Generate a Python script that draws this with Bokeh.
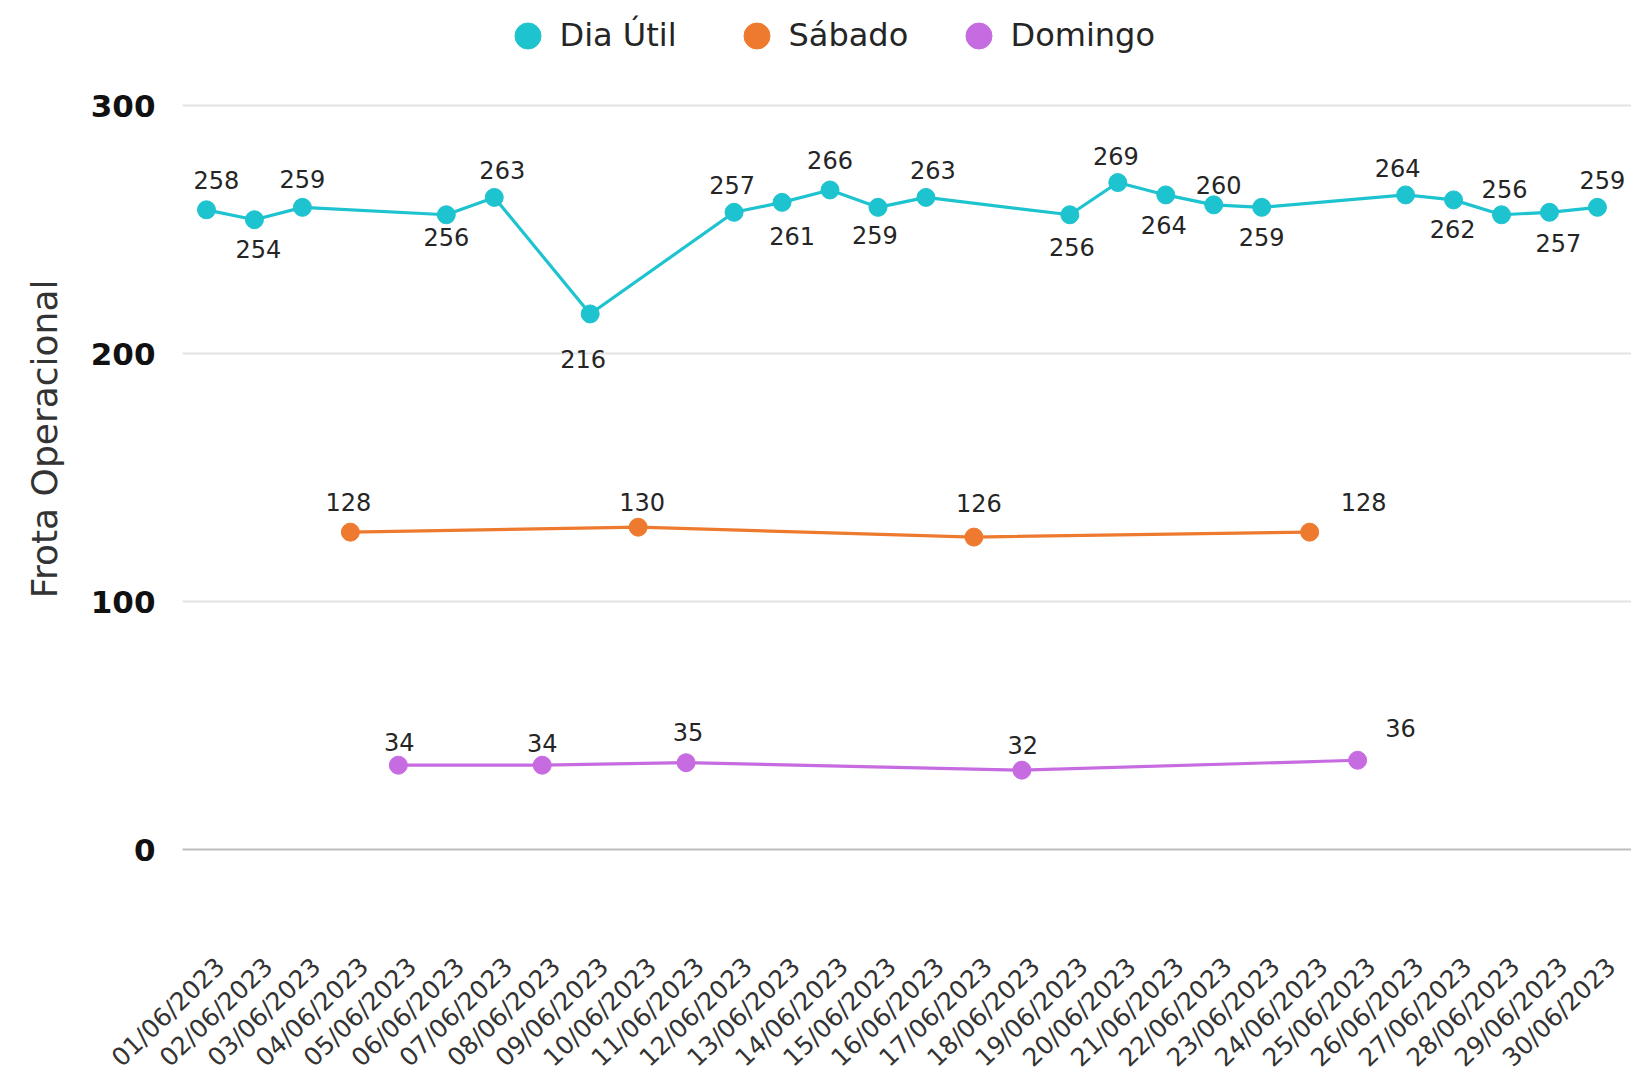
import math
from bokeh.plotting import figure
from bokeh.models import (ColumnDataSource, Range1d, FixedTicker, Legend,
                          LegendItem, LinearAxis, Title)
from bokeh.embed import file_html
from bokeh.resources import INLINE
from bokeh.core.properties import value

# ---------------- data ----------------
dates = ["01/06/2023", "02/06/2023", "03/06/2023", "04/06/2023", "05/06/2023",
         "06/06/2023", "07/06/2023", "08/06/2023", "09/06/2023", "10/06/2023",
         "11/06/2023", "12/06/2023", "13/06/2023", "14/06/2023", "15/06/2023",
         "16/06/2023", "17/06/2023", "18/06/2023", "19/06/2023", "20/06/2023",
         "21/06/2023", "22/06/2023", "23/06/2023", "24/06/2023", "25/06/2023",
         "26/06/2023", "27/06/2023", "28/06/2023", "29/06/2023", "30/06/2023"]

dia_dates = ["01/06/2023", "02/06/2023", "03/06/2023", "06/06/2023", "07/06/2023",
             "09/06/2023", "12/06/2023", "13/06/2023", "14/06/2023", "15/06/2023",
             "16/06/2023", "19/06/2023", "20/06/2023", "21/06/2023", "22/06/2023",
             "23/06/2023", "26/06/2023", "27/06/2023", "28/06/2023", "29/06/2023",
             "30/06/2023"]
dia_values = [258, 254, 259, 256, 263, 216, 257, 261, 266, 259, 263,
              256, 269, 264, 260, 259, 264, 262, 256, 257, 259]

sab_dates = ["04/06/2023", "10/06/2023", "17/06/2023", "24/06/2023"]
sab_values = [128, 130, 126, 128]

dom_dates = ["05/06/2023", "08/06/2023", "11/06/2023", "18/06/2023", "25/06/2023"]
dom_values = [34, 34, 35, 32, 36]

y_ticks = [0, 100, 200, 300]
series_names = ["Dia Útil", "Sábado", "Domingo"]
y_title = "Frota Operacional"

# ---------------- style ----------------
FONT = "DejaVu Sans"
C_DIA = "#1DC3CF"
C_SAB = "#EE7A2F"
C_DOM = "#C76BE0"
TXT = "#333333"
LBL = "#252525"

# label placement offsets in screen px (positive dy = downwards)
dia_dx = [10, 4, 0, 0, 8, -7, -2, 10, 0, -3, 7, 2, -2, -2, 5, 0, -8, -1, 3, 9, 5]
dia_dy = [-30, 29, -28, 22, -27, 45, -27, 34, -30, 28, -27, 32, -27, 30, -20, 30, -27, 29, -26, 31, -27]
sab_dx = [-2, 4, 5, 54]
sab_dy = [-30, -25, -34, -30]
dom_dx = [1, 0, 2, 1, 43]
dom_dy = [-23, -22, -31, -25, -32]

LABEL_SHIFT = 0.29   # tick labels sit slightly right of their points (category units)
RIGHT_PAD = 0.21     # extra room on the right so the last label is not clipped

n = len(dates)
pos = {d: i + 1 for i, d in enumerate(dates)}

p = figure(x_range=Range1d(0.5, n + 0.5 + RIGHT_PAD), y_range=Range1d(0, 340),
           frame_width=1449, frame_height=843,
           min_border_left=182, min_border_right=0, min_border_top=6, min_border_bottom=230,
           x_axis_location=None,
           output_backend="svg", toolbar_location=None)
p.outline_line_color = None
p.background_fill_color = "white"
p.border_fill_color = "white"

p.xgrid.visible = False
p.ygrid.grid_line_color = "#e3e3e3"
p.ygrid.grid_line_width = 2
p.ygrid.ticker = FixedTicker(ticks=y_ticks)

p.yaxis.ticker = FixedTicker(ticks=y_ticks)
p.yaxis.axis_line_color = None
p.yaxis.major_tick_line_color = None
p.yaxis.minor_tick_line_color = None
p.yaxis.major_tick_out = 0
p.yaxis.major_tick_in = 0
p.yaxis.major_label_standoff = 27
p.yaxis.major_label_text_font = FONT
p.yaxis.major_label_text_font_size = "31px"
p.yaxis.major_label_text_font_style = "bold"
p.yaxis.major_label_text_color = "#111111"

title = Title(text=y_title, align="right", offset=273, vertical_align="middle",
              standoff=44, text_font=FONT, text_font_size="36px",
              text_font_style="normal", text_color=TXT)
p.add_layout(title, "left")

# x tick labels on a numeric helper range (shifted slightly to the right)
p.extra_x_ranges = {"lbl": Range1d(0.5 - LABEL_SHIFT, n + 0.5 + RIGHT_PAD - LABEL_SHIFT)}
xax = LinearAxis(x_range_name="lbl", ticker=FixedTicker(ticks=list(range(1, n + 1))),
                 major_label_overrides={i + 1: d for i, d in enumerate(dates)})
xax.axis_line_color = "#bdbdbd"
xax.axis_line_width = 2
xax.major_tick_line_color = None
xax.minor_tick_line_color = None
xax.major_tick_out = 0
xax.major_tick_in = 0
xax.major_label_orientation = 0.76
xax.major_label_standoff = 113
xax.major_label_text_font = FONT
xax.major_label_text_font_size = "25px"
xax.major_label_text_color = TXT
p.add_layout(xax, "below")

renderers = []
for ds, ys, color, dx, dy in [(dia_dates, dia_values, C_DIA, dia_dx, dia_dy),
                              (sab_dates, sab_values, C_SAB, sab_dx, sab_dy),
                              (dom_dates, dom_values, C_DOM, dom_dx, dom_dy)]:
    src = ColumnDataSource(dict(x=[pos[d] for d in ds], y=ys, t=[str(v) for v in ys],
                                dx=dx, dy=dy))
    p.line("x", "y", source=src, line_color=color, line_width=3.2)
    r = p.scatter("x", "y", source=src, size=18, fill_color=color, line_color=color)
    renderers.append(r)
    p.text(x="x", y="y", text="t", x_offset="dx", y_offset="dy", source=src,
           text_align="center", text_baseline="middle", text_font=value(FONT),
           text_font_size="24px", text_color=LBL)

legend_x = [312.5, 541.5, 763.5]
for r, name, lx in zip(renderers, series_names, legend_x):
    leg = Legend(items=[LegendItem(label=name, renderers=[r])], location=(lx, 781.5),
                 orientation="horizontal", glyph_width=65, glyph_height=65,
                 label_standoff=-8, padding=0, margin=0, spacing=0,
                 border_line_color=None, background_fill_alpha=0,
                 label_text_font=FONT, label_text_font_size="32px",
                 label_text_color=LBL)
    p.add_layout(leg)

open("out.html", "w").write(file_html(p, INLINE))
